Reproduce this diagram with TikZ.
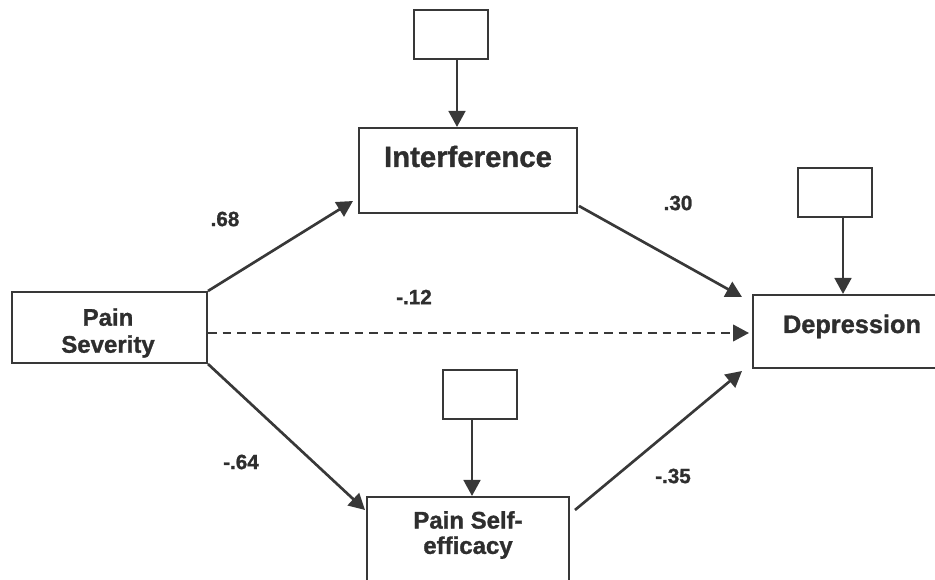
\documentclass[tikz,border=0pt]{standalone}
\usepackage{fontspec}
\setmainfont{Liberation Sans}[BoldFeatures={FakeBold=1.2}]
\usetikzlibrary{arrows.meta,positioning,calc}
\definecolor{ink}{HTML}{383838}
\definecolor{txt}{HTML}{2E2E2E}

\begin{document}
\begin{tikzpicture}[x=0.75pt,y=-0.75pt,
	box/.style={draw=ink,line width=1.5pt,inner sep=0pt},
	errbox/.style={box,minimum width=55.5pt,minimum height=36.75pt},
	arr/.style={draw=ink,line width=2pt,-{Triangle[length=12pt,width=12.5pt]}},
	lbl/.style={text=txt,align=center},
	coef/.style={text=txt,font=\fontsize{15.5}{18}\bfseries\selectfont}]
	\useasboundingbox (0,0) rectangle (935,580);
	\clip (0,0) rectangle (935,580);
	
	% main boxes
	\node[box,minimum width=146.25pt,minimum height=53.25pt] (sev) at (109.5,327.5) {};
	\node[box,minimum width=163.5pt,minimum height=63.75pt] (intf) at (468,170.5) {};
	\node[box,minimum width=147.75pt,minimum height=54.75pt] (dep) at (851.5,331.5) {};
	\node[box,minimum width=151.5pt,minimum height=69.75pt] (eff) at (468,543.5) {};
	
	% error boxes
	\node[errbox] (e1) at (451,34.5) {};
	\node[errbox] (e2) at (834.5,192.5) {};
	\node[errbox] (e3) at (480,394.5) {};
	
	% texts
	\node[lbl,font=\fontsize{18}{20.25}\bfseries\selectfont] (sevtxt) at (108,333) {Pain\\Severity};
	\node[lbl,font=\fontsize{22}{26}\bfseries\selectfont,anchor=base] (intftxt) at (468,167) {Interference};
	\node[lbl,font=\fontsize{19}{22}\bfseries\selectfont,anchor=base] (deptxt) at (852,333) {Depression};
	\node[lbl,font=\fontsize{18}{19}\bfseries\selectfont] (efftxt) at (468,535) {Pain Self-\\efficacy};
	
	% paths
	\draw[arr] (sev.north east) -- ($(intf.south west)+(-5,-13)$);
	\draw[arr] ($(intf.south east)+(1,-8)$) -- ($(dep.north west)+(-10,3)$);
	\coordinate (dstart) at ($(sev.east)+(0,5.5)$);
	\draw[arr,line width=1.6pt,dash pattern=on 6.5pt off 4.5pt] (dstart) -- ($(dstart -| dep.west)+(-3,0)$);
	\draw[arr] (sev.south east) -- ($(eff.north west)+(-1,14)$);
	\draw[arr] ($(eff.north east)+(5,14)$) -- ($(dep.south west)+(-10,2)$);
	
	% error paths
	\coordinate (t1) at ($(e1.south)+(6,0)$);
	\coordinate (t2) at ($(e2.south)+(8.5,0)$);
	\coordinate (t3) at ($(e3.south)+(-8,0)$);
	\draw[arr] (t1) -- (t1 |- intf.north);
	\draw[arr] (t2) -- (t2 |- dep.north);
	\draw[arr] (t3) -- (t3 |- eff.north);
	
	% coefficients
	\node[coef] (c1) at (225,219) {.68};
	\node[coef] (c2) at (678,203) {.30};
	\node[coef] (c3) at (414,297) {-.12};
	\node[coef] (c4) at (241,462) {-.64};
	\node[coef] (c5) at (673,476) {-.35};
\end{tikzpicture}
\end{document}
